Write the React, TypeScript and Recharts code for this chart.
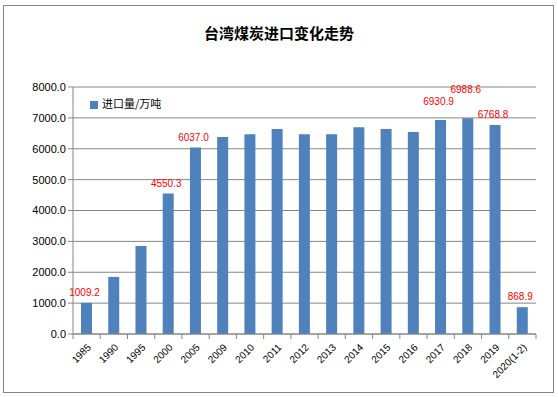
import React from 'react';
import { BarChart, Bar, XAxis, YAxis, CartesianGrid, Legend, LabelList } from 'recharts';

const years = ['1985', '1990', '1995', '2000', '2005', '2009', '2010', '2011', '2012', '2013', '2014', '2015', '2016', '2017', '2018', '2019', '2020(1-2)'];
const imports = [1009.2, 1850, 2850, 4550.3, 6037.0, 6380, 6470, 6640, 6470, 6470, 6700, 6640, 6540, 6930.9, 6988.6, 6768.8, 868.9];
const labelled = ['1985', '2000', '2005', '2017', '2018', '2019', '2020(1-2)'];
const yTicks = [0, 1000, 2000, 3000, 4000, 5000, 6000, 7000, 8000];

const data = years.map((y, i) => ({ year: y, value: imports[i], label: labelled.includes(y) ? imports[i].toFixed(1) : '' }));

const FONT = '"Liberation Sans", "Noto Sans CJK SC", sans-serif';
const STEP = 463 / years.length;

function XTick(props: any) {
  const { x, y, payload, index } = props;
  const last = index === years.length - 1;
  return (
    <g>
      <line x1={x - STEP / 2} x2={x - STEP / 2} y1={y - 8} y2={y - 3} stroke="#868686" />
      {last && <line x1={x + STEP / 2} x2={x + STEP / 2} y1={y - 8} y2={y - 3} stroke="#868686" />}
      <text x={x + 5} y={y + 6} textAnchor="end" transform={`rotate(-45 ${x + 5} ${y + 6})`} fontSize={10} fill="#000" fontFamily={FONT}>
        {payload.value}
      </text>
    </g>
  );
}

function ValueLabel(props: any) {
  const { x, y, width, value, index } = props;
  if (!value) return null;
  const extra = years[index] === '2018' ? 18 : years[index] === '2017' ? 8 : 0;
  return (
    <text x={x + width / 2 - 2} y={y - 7 - extra} textAnchor="middle" fontSize={10} fill="#ff0000" fontFamily={FONT}>
      {value}
    </text>
  );
}

export default function App() {
  return (
    <div style={{ position: 'absolute', left: 0, top: 0, width: 558, height: 397, background: '#fff' }}>
      <div style={{ position: 'absolute', left: 3, top: 5, width: 549, height: 386, border: '1px solid #868686' }} />
      <div style={{ position: 'absolute', left: 0, top: 22, width: 558, textAlign: 'center', fontFamily: '"Noto Sans CJK SC", sans-serif', fontWeight: 'bold', fontSize: 15, color: '#000' }}>
        台湾煤炭进口变化走势
      </div>
      <BarChart width={558} height={397} data={data} margin={{ top: 87, right: 22, bottom: 0, left: 8 }} barCategoryGap={0}>
        <CartesianGrid vertical={false} stroke="#868686" />
        <XAxis dataKey="year" interval={0} height={63} tickLine={false} tick={<XTick />} axisLine={{ stroke: '#868686' }} />
        <YAxis
          width={65}
          domain={[0, 8000]}
          ticks={yTicks}
          tickFormatter={(v: number) => v.toFixed(1)}
          tick={{ fontSize: 11, fill: '#000', fontFamily: FONT }}
          axisLine={{ stroke: '#868686' }}
          tickLine={{ stroke: '#868686' }}
          tickSize={5}
        />
        <Legend
          layout="horizontal"
          verticalAlign="middle"
          align="center"
          iconType="square"
          iconSize={8}
          wrapperStyle={{ left: 90, top: 95, width: 'auto', fontSize: 11, fontFamily: '"Noto Sans CJK SC", sans-serif' }}
          formatter={(v: string) => <span style={{ color: '#000' }}>{v}</span>}
        />
        <Bar dataKey="value" name="进口量/万吨" fill="#4F81BD" barSize={11} isAnimationActive={false}>
          <LabelList dataKey="label" content={<ValueLabel />} />
        </Bar>
      </BarChart>
    </div>
  );
}
